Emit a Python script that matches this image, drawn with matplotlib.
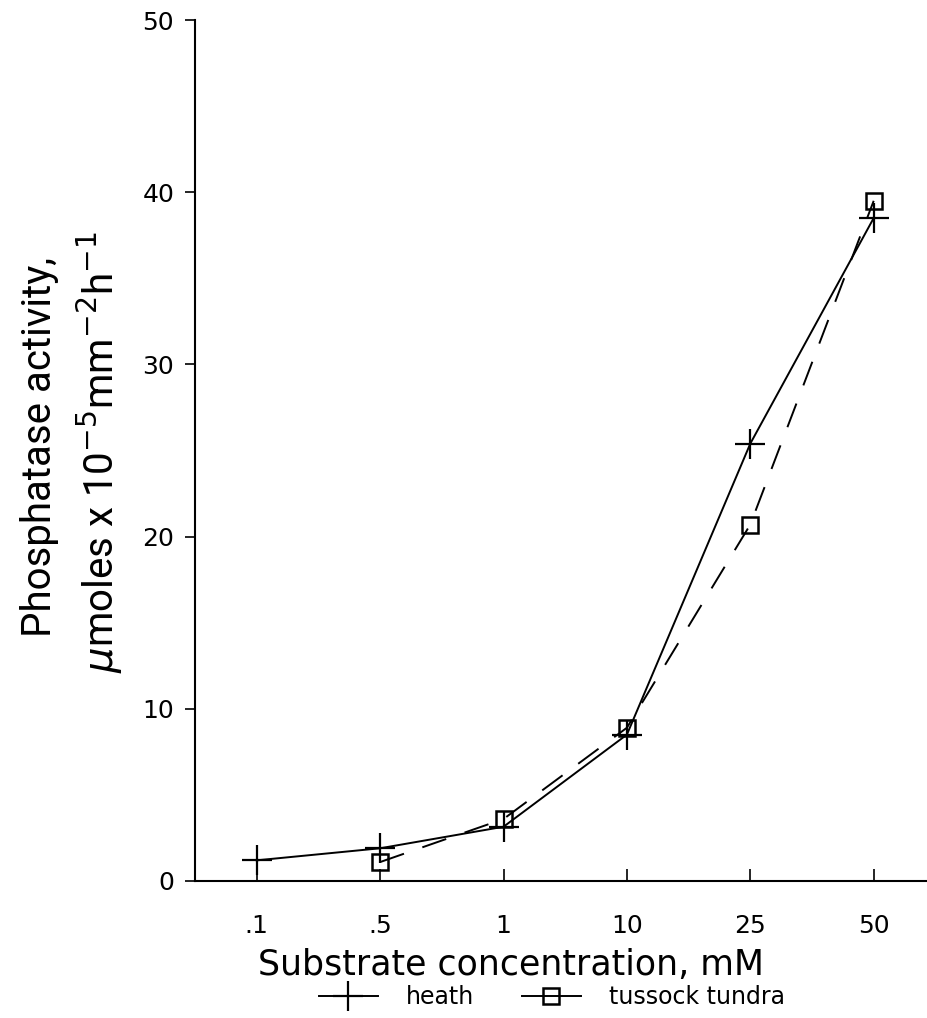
import matplotlib
matplotlib.use("Agg")
import matplotlib.pyplot as plt
from matplotlib.lines import Line2D

categories = [".1", ".5", "1", "10", "25", "50"]
heath = [1.2, 1.9, 3.15, 8.5, 25.4, 38.5]
tussock_cats = [".5", "1", "10", "25", "50"]
tussock = [1.1, 3.6, 8.9, 20.7, 39.5]
yticks = [0, 10, 20, 30, 40, 50]

plt.rcParams['font.family'] = ['DejaVu Sans']

fig = plt.figure(figsize=(9.28, 10.18), dpi=100)
ax = fig.add_axes([195/928, 1 - 881/1018, 733/928, (881 - 20)/1018])

xpos = {c: i for i, c in enumerate(categories)}
ax.plot([xpos[c] for c in categories], heath, color='black', lw=1.4,
        marker='+', markersize=21, markeredgewidth=1.6, label='heath')
ax.plot([xpos[c] for c in tussock_cats], tussock, color='black', lw=1.4,
        dashes=(13, 10), marker='s', markersize=12, markerfacecolor='none',
        markeredgewidth=1.8, label='tussock tundra')

ax.set_xlim(-0.5, 5.44)
ax.set_ylim(0, 50)
ax.set_xticks(range(len(categories)))
ax.set_xticklabels(categories)
ax.set_yticks(yticks)
ax.tick_params(axis='x', direction='in', length=9, width=1.2, labelsize=18, pad=24)
ax.tick_params(axis='y', direction='out', length=7, width=1.2, labelsize=18, pad=8)
for s in ['top', 'right']:
    ax.spines[s].set_visible(False)
for s in ['left', 'bottom']:
    ax.spines[s].set_linewidth(1.5)

ax.set_xlabel("Substrate concentration, mM", fontsize=25)
ax.xaxis.set_label_coords((511 - 195) / 733, -(948 - 881) / 861)

ylab_family = ['Roboto', 'DejaVu Sans']
fig.text(40/928, 1 - 447/1018, "Phosphatase activity,", rotation=90,
         fontsize=29, ha='center', va='center', family=ylab_family)
fig.text(100/928, 1 - 452/1018, r"$\mu$moles x 10$^{-5}$mm$^{-2}$h$^{-1}$",
         rotation=90, fontsize=29, ha='center', va='center', family=ylab_family)

h1 = Line2D([], [], color='black', lw=1.4, marker='+', markersize=21, markeredgewidth=1.6)
h2 = Line2D([], [], color='black', lw=1.4, marker='s', markersize=12,
            markerfacecolor='none', markeredgewidth=1.8)
fig.legend([h1, h2], ['heath', 'tussock tundra'], loc='center',
           bbox_to_anchor=(552/928, 1 - 997/1018), ncol=2, frameon=False,
           fontsize=17, handlelength=2.5, columnspacing=2.0, handletextpad=1.2)

fig.savefig("out.png", dpi=100)
